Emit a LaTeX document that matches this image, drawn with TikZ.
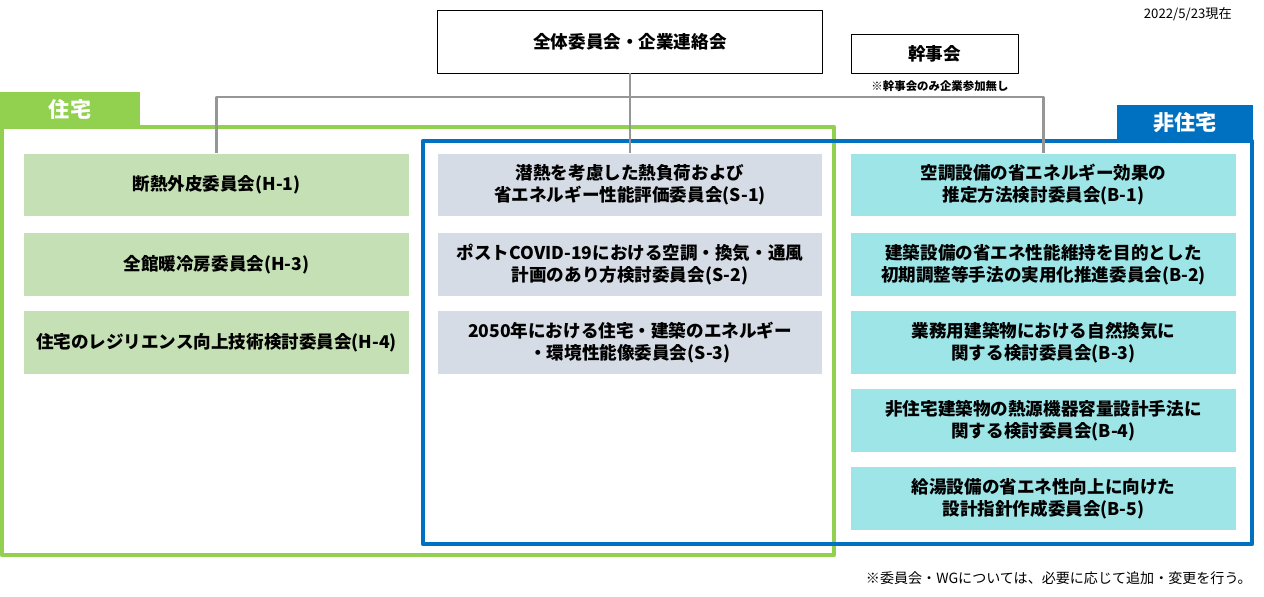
\documentclass[tikz,border=0pt]{standalone}
\usepackage{fontspec}
\setmainfont{Noto Sans CJK JP}
\usetikzlibrary{positioning}
\definecolor{jgreen}{RGB}{146,208,80}
\definecolor{jblue}{RGB}{0,112,192}
\definecolor{hfill}{RGB}{197,224,180}
\definecolor{sfill}{RGB}{214,220,229}
\definecolor{bfill}{RGB}{158,229,232}
\definecolor{lgray}{RGB}{150,150,150}
\tikzset{every node/.style={font=\bfseries\fontsize{10}{12.5}\selectfont}}
\tikzset{cbox/.style={minimum width=7.7cm,minimum height=1.26cm,align=center,inner sep=0pt}}
\begin{document}
\begin{tikzpicture}[x=0.02cm,y=-0.02cm,line join=round]
  \useasboundingbox (0,0) rectangle (1264,597);
  % head
  \node[cbox,draw=black,line width=0.5pt] (all) at (630,41.5) {全体委員会・企業連絡会};
  \node[draw=black,line width=0.5pt,minimum width=3.34cm,minimum height=0.78cm,inner sep=0pt] (kanji) at (934.5,53.5) {幹事会};
  \node[font=\bfseries\fontsize{6.5}{8}\selectfont] (kanjinote) at (940,86) {※幹事会のみ企業参加無し};
  \node[font=\fontsize{7.5}{9}\selectfont,anchor=east] (date) at (1238,14) {2022/5/23現在};
  % frames
  \draw[jgreen,line width=2.5pt] (2,127) rectangle (834,555);
  \fill[jgreen] (0,92) rectangle (140,127);
  \node[white,font=\bfseries\fontsize{12}{14}\selectfont] (jutaku) at (70,109.5) {住宅};
  \draw[jblue,line width=2.5pt] (423,141) rectangle (1252,544);
  \fill[jblue] (1117,105) rectangle (1253,140);
  \node[white,font=\bfseries\fontsize{12}{14}\selectfont] (hijutaku) at (1185,122.5) {非住宅};
  % boxes
  \node[cbox,fill=hfill] (h1) at (216.5,185) {断熱外皮委員会(H-1)};
  \node[cbox,fill=hfill] (h3) at (216.5,264.5) {全館暖冷房委員会(H-3)};
  \node[cbox,fill=hfill] (h4) at (216.5,342.5) {住宅のレジリエンス向上技術検討委員会(H-4)};
  \node[cbox,fill=sfill] (s1) at (630,185) {潜熱を考慮した熱負荷および\\省エネルギー性能評価委員会(S-1)};
  \node[cbox,fill=sfill] (s2) at (630,264.5) {ポストCOVID-19における空調・換気・通風\\計画のあり方検討委員会(S-2)};
  \node[cbox,fill=sfill] (s3) at (630,342.5) {2050年における住宅・建築のエネルギー\\・環境性能像委員会(S-3)};
  \node[cbox,fill=bfill] (b1) at (1043.5,185) {空調設備の省エネルギー効果の\\推定方法検討委員会(B-1)};
  \node[cbox,fill=bfill] (b2) at (1043.5,264.5) {建築設備の省エネ性能維持を目的とした\\初期調整等手法の実用化推進委員会(B-2)};
  \node[cbox,fill=bfill] (b3) at (1043.5,342.5) {業務用建築物における自然換気に\\関する検討委員会(B-3)};
  \node[cbox,fill=bfill] (b4) at (1043.5,420.5) {非住宅建築物の熱源機器容量設計手法に\\関する検討委員会(B-4)};
  \node[cbox,fill=bfill] (b5) at (1043.5,498.5) {給湯設備の省エネ性向上に向けた\\設計指針作成委員会(B-5)};
  % connectors
  \draw[lgray,line width=1.2pt] (all.south) -- (s1.north);
  \draw[lgray,line width=1.2pt] (h1.north) -- (h1.north |- 0,97) -- (b1.north |- 0,97) -- (b1.north);
  \node[font=\fontsize{8}{10}\selectfont,anchor=east] (note) at (1258,578) {※委員会・WGについては、必要に応じて追加・変更を行う。};
\end{tikzpicture}
\end{document}
